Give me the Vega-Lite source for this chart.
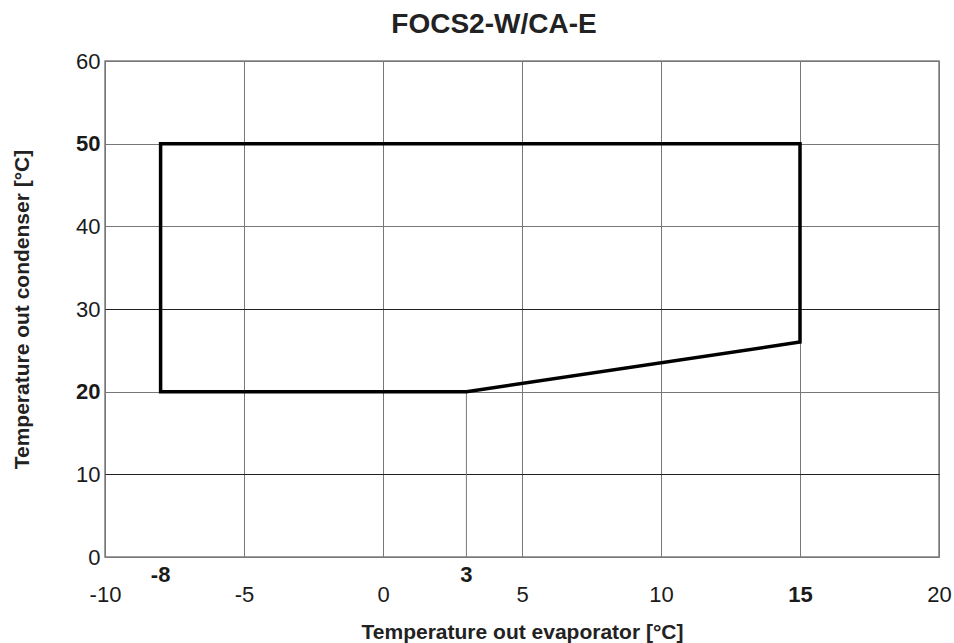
{
  "$schema": "https://vega.github.io/schema/vega-lite/v6.json",
  "width": 834,
  "height": 496,
  "autosize": {"type": "none"},
  "padding": {"left": 105, "top": 61, "right": 15, "bottom": 86},
  "background": "white",
  "config": {
    "view": {"stroke": "#808080", "strokeWidth": 1.5},
    "font": "Liberation Sans"
  },
  "title": {
    "text": "FOCS2-W/CA-E",
    "font": "Liberation Sans",
    "fontSize": 28,
    "fontWeight": "bold",
    "color": "#222222",
    "anchor": "middle",
    "frame": "group",
    "dx": -28,
    "offset": 11
  },
  "datasets": {
    "envelope": [
      {"x": -8, "y": 20, "o": 1},
      {"x": 3, "y": 20, "o": 2},
      {"x": 15, "y": 26, "o": 3},
      {"x": 15, "y": 50, "o": 4},
      {"x": -8, "y": 50, "o": 5},
      {"x": -8, "y": 20, "o": 6}
    ],
    "marks": [
      {"x": -8, "label": "-8"},
      {"x": 3, "label": "3"}
    ],
    "ref": [
      {"x": 3, "y": 0, "y2": 20}
    ]
  },
  "layer": [
    {
      "data": {"name": "ref"},
      "mark": {"type": "rule", "color": "#777777", "strokeWidth": 1},
      "encoding": {
        "x": {
          "field": "x",
          "type": "quantitative",
          "scale": {"domain": [-10, 20], "nice": false, "zero": false},
          "axis": {
            "values": [-10, -5, 0, 5, 10, 15, 20],
            "labelExpr": "datum.value + ''",
            "title": "Temperature out evaporator [°C]",
            "titleFont": "Liberation Sans",
            "titleFontSize": 21,
            "titleFontWeight": "bold",
            "titleColor": "#222222",
            "titleY": 75,
            "titleBaseline": "middle",
            "labelFont": "Liberation Sans",
            "labelFontSize": 22,
            "labelColor": "#1a1a1a",
            "labelPadding": 27,
            "labelFlush": false,
            "labelOverlap": false,
            "labelBound": false,
            "labelFontWeight": {"condition": {"test": "datum.value == 15", "value": "bold"}, "value": "normal"},
            "ticks": false,
            "domain": false,
            "grid": true,
            "gridColor": "#777777",
            "gridWidth": 1,
            "gridOpacity": 1
          }
        },
        "y": {
          "field": "y",
          "type": "quantitative",
          "scale": {"domain": [0, 60], "nice": false, "zero": true},
          "axis": {
            "values": [0, 10, 20, 30, 40, 50, 60],
            "labelExpr": "datum.value + ''",
            "title": "Temperature out condenser [°C]",
            "titleFont": "Liberation Sans",
            "titleFontSize": 21,
            "titleFontWeight": "bold",
            "titleColor": "#222222",
            "titleX": -83,
            "titleY": 248,
            "titleAngle": -90,
            "titleBaseline": "middle",
            "labelFont": "Liberation Sans",
            "labelFontSize": 22,
            "labelColor": "#1a1a1a",
            "labelPadding": 5,
            "labelFlush": false,
            "labelOverlap": false,
            "labelBound": false,
            "labelFontWeight": {"condition": {"test": "datum.value == 20 || datum.value == 50", "value": "bold"}, "value": "normal"},
            "ticks": false,
            "domain": false,
            "grid": true,
            "gridColor": {"condition": {"test": "datum.value == 10 || datum.value == 30", "value": "#222222"}, "value": "#777777"},
            "gridWidth": 1,
            "gridOpacity": 1
          }
        },
        "y2": {"field": "y2"}
      }
    },
    {
      "data": {"name": "envelope"},
      "mark": {"type": "line", "color": "black", "strokeWidth": 3.5, "strokeJoin": "miter", "strokeCap": "square"},
      "encoding": {
        "x": {"field": "x", "type": "quantitative"},
        "y": {"field": "y", "type": "quantitative"},
        "order": {"field": "o", "type": "quantitative"}
      }
    },
    {
      "data": {"name": "marks"},
      "mark": {"type": "text", "font": "Liberation Sans", "fontWeight": "bold", "fontSize": 22, "color": "#1a1a1a", "baseline": "middle", "dy": 18, "clip": false},
      "encoding": {
        "x": {"field": "x", "type": "quantitative"},
        "y": {"datum": 0, "type": "quantitative"},
        "text": {"field": "label", "type": "nominal"}
      }
    }
  ]
}
